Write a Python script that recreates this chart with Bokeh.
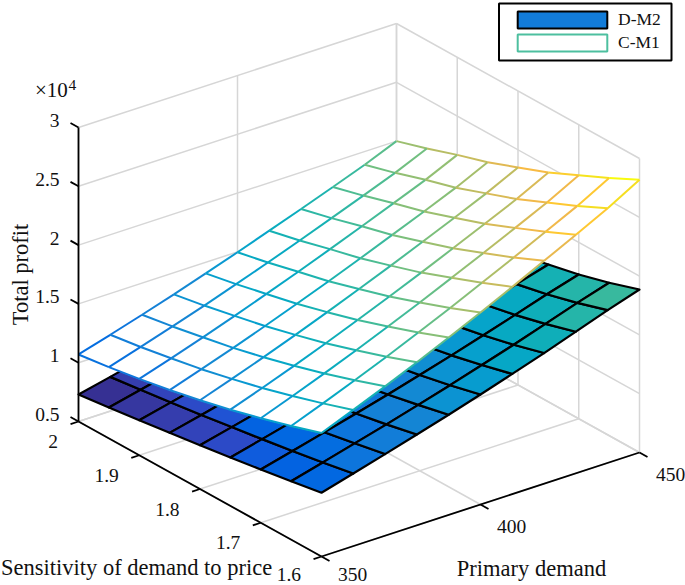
from bokeh.plotting import figure
from bokeh.models import Range1d, ColumnDataSource, Legend, LegendItem
from bokeh.core.properties import value
from bokeh.embed import file_html
from bokeh.resources import INLINE
import math

primary_demand = [350, 360, 370, 380, 390, 400, 410, 420, 430, 440, 450]
price_sensitivity = [2.0, 1.95, 1.9, 1.85, 1.8, 1.75, 1.7, 1.65, 1.6]

x_ticks = [350, 400, 450]
y_ticks = [1.6, 1.7, 1.8, 1.9, 2.0]
z_ticks = [0.5, 1.0, 1.5, 2.0, 2.5, 3.0]
x_tick_labels = ["350", "400", "450"]
y_tick_labels = ["1.6", "1.7", "1.8", "1.9", "2"]
z_tick_labels = ["0.5", "1", "1.5", "2", "2.5", "3"]

# total profit (x 10^4), one row per price sensitivity, one column per demand
d_m2 = [
    [0.730, 0.791, 0.854, 0.918, 0.983, 1.052, 1.123, 1.195, 1.271, 1.349, 1.420],
    [0.763, 0.825, 0.888, 0.953, 1.019, 1.088, 1.160, 1.233, 1.309, 1.388, 1.460],
    [0.798, 0.861, 0.925, 0.990, 1.057, 1.127, 1.200, 1.275, 1.352, 1.432, 1.505],
    [0.834, 0.898, 0.964, 1.030, 1.099, 1.170, 1.244, 1.320, 1.399, 1.481, 1.555],
    [0.872, 0.938, 1.005, 1.073, 1.143, 1.216, 1.292, 1.369, 1.451, 1.534, 1.610],
    [0.912, 0.979, 1.048, 1.118, 1.189, 1.264, 1.342, 1.422, 1.505, 1.590, 1.668],
    [0.953, 1.022, 1.092, 1.164, 1.237, 1.314, 1.393, 1.475, 1.560, 1.647, 1.727],
    [0.997, 1.068, 1.142, 1.215, 1.292, 1.371, 1.454, 1.538, 1.627, 1.717, 1.800],
    [1.042, 1.117, 1.194, 1.272, 1.352, 1.435, 1.522, 1.611, 1.704, 1.799, 1.886],
]
c_m1 = [
    [1.070, 1.149, 1.231, 1.316, 1.406, 1.497, 1.592, 1.688, 1.787, 1.887, 2.000],
    [1.106, 1.189, 1.275, 1.364, 1.458, 1.553, 1.652, 1.754, 1.857, 1.962, 2.080],
    [1.149, 1.236, 1.326, 1.420, 1.518, 1.618, 1.722, 1.828, 1.936, 2.046, 2.170],
    [1.198, 1.287, 1.380, 1.477, 1.578, 1.681, 1.788, 1.898, 2.009, 2.123, 2.250],
    [1.255, 1.348, 1.444, 1.545, 1.650, 1.758, 1.869, 1.983, 2.099, 2.218, 2.350],
    [1.318, 1.414, 1.514, 1.618, 1.727, 1.838, 1.953, 2.071, 2.191, 2.313, 2.450],
    [1.389, 1.489, 1.593, 1.702, 1.815, 1.931, 2.052, 2.174, 2.300, 2.427, 2.570],
    [1.466, 1.570, 1.678, 1.790, 1.908, 2.028, 2.153, 2.280, 2.410, 2.542, 2.690],
    [1.550, 1.658, 1.770, 1.887, 2.008, 2.133, 2.262, 2.395, 2.529, 2.666, 2.820],
]

parula = [
    (.2081,.1663,.5292),(.2116,.1898,.5777),(.2123,.2138,.6270),(.2081,.2386,.6771),
    (.1959,.2645,.7279),(.1707,.2919,.7792),(.1253,.3242,.8303),(.0591,.3598,.8683),
    (.0117,.3875,.8820),(.0060,.4086,.8828),(.0165,.4266,.8786),(.0329,.4430,.8720),
    (.0498,.4586,.8641),(.0629,.4737,.8554),(.0723,.4887,.8467),(.0779,.5040,.8384),
    (.0793,.5200,.8312),(.0749,.5375,.8263),(.0641,.5570,.8240),(.0488,.5772,.8228),
    (.0343,.5966,.8199),(.0265,.6137,.8135),(.0239,.6287,.8038),(.0231,.6418,.7913),
    (.0228,.6535,.7768),(.0267,.6642,.7607),(.0384,.6743,.7436),(.0590,.6838,.7254),
    (.0843,.6928,.7062),(.1133,.7015,.6859),(.1453,.7098,.6646),(.1801,.7177,.6424),
    (.2178,.7250,.6193),(.2586,.7317,.5954),(.3022,.7376,.5712),(.3482,.7424,.5473),
    (.3953,.7459,.5244),(.4420,.7481,.5033),(.4871,.7491,.4840),(.5300,.7491,.4661),
    (.5709,.7485,.4494),(.6099,.7473,.4337),(.6473,.7456,.4188),(.6834,.7435,.4044),
    (.7184,.7411,.3905),(.7525,.7384,.3768),(.7858,.7356,.3633),(.8185,.7327,.3498),
    (.8507,.7299,.3360),(.8824,.7274,.3217),(.9139,.7258,.3063),(.9450,.7261,.2886),
    (.9739,.7314,.2666),(.9938,.7455,.2403),(.9990,.7653,.2164),(.9955,.7861,.1967),
    (.9880,.8066,.1794),(.9789,.8271,.1633),(.9697,.8481,.1475),(.9626,.8705,.1309),
    (.9589,.8949,.1132),(.9598,.9218,.0948),(.9661,.9514,.0755),(.9763,.9831,.0538),
]
Z_MIN, Z_MAX = 0.73, 2.82


def colour(z):
    t = max(0.0, min(1.0, (z - Z_MIN) / (Z_MAX - Z_MIN)))
    r, g, b = parula[min(63, int(t * 64))]
    return "#%02x%02x%02x" % (round(r * 255), round(g * 255), round(b * 255))


# orthographic view: the three axis directions on the page, in pixels
ORIGIN_X, ORIGIN_Y = 78.0, 421.0
def px(x, y, z):
    return ORIGIN_X + (x - 350) / 100 * 318 + (2 - y) / 0.4 * 243
def py(x, y, z):
    return ORIGIN_Y - (x - 350) / 100 * 104 + (2 - y) / 0.4 * 135 - (z - 0.5) / 2.5 * 294


H = 585
p = figure(width=685, height=H, output_backend="svg", toolbar_location=None,
           x_range=Range1d(0, 685), y_range=Range1d(H, 0),
           x_axis_type=None, y_axis_type=None, min_border=0,
           margin=(0, 0, 0, 0), outline_line_color=None)
p.grid.visible = False

FONT = value("Liberation Serif")


def seg(rows):
    xs = [[px(*a), px(*b)] for a, b in rows]
    ys = [[py(*a), py(*b)] for a, b in rows]
    return xs, ys


# walls and floor grid
zlo, zhi = z_ticks[0], z_ticks[-1]
grid = []
for x in x_ticks:
    grid.append(((x, 1.6, zlo), (x, 2.0, zlo)))
    grid.append(((x, 2.0, zlo), (x, 2.0, zhi)))
for y in y_ticks:
    grid.append(((350, y, zlo), (450, y, zlo)))
    grid.append(((450, y, zlo), (450, y, zhi)))
for z in z_ticks:
    grid.append(((350, 2.0, z), (450, 2.0, z)))
    grid.append(((450, 2.0, z), (450, 1.6, z)))
gx, gy = seg(grid)
p.multi_line(gx, gy, line_color="#d6d6d6", line_width=1.5)


def cells(table):
    xs, ys, col = [], [], []
    for k in range(len(price_sensitivity) - 1):
        for i in range(len(primary_demand) - 1):
            corners = [(i, k), (i + 1, k), (i + 1, k + 1), (i, k + 1)]
            xs.append([px(primary_demand[a], price_sensitivity[b], table[b][a]) for a, b in corners])
            ys.append([py(primary_demand[a], price_sensitivity[b], table[b][a]) for a, b in corners])
            col.append(colour(sum(table[b][a] for a, b in corners) / 4))
    return xs, ys, col


# D-M2: coloured faces, black mesh
lx, ly, lc = cells(d_m2)
p.patches("xs", "ys", fill_color="c", line_color="black", line_width=2.2, line_join="round",
          source=ColumnDataSource(dict(xs=lx, ys=ly, c=lc)))

# C-M1: white faces, coloured mesh
ux, uy, _ = cells(c_m1)
p.patches(ux, uy, fill_color="white", line_color="white", line_width=0.5)
ex, ey, ec = [], [], []
nx, ny = len(primary_demand), len(price_sensitivity)
for k in range(ny):
    for i in range(nx):
        a = (primary_demand[i], price_sensitivity[k], c_m1[k][i])
        if i + 1 < nx:
            b = (primary_demand[i + 1], price_sensitivity[k], c_m1[k][i + 1])
            ex.append([px(*a), px(*b)]); ey.append([py(*a), py(*b)]); ec.append(colour(a[2]))
        if k + 1 < ny:
            b = (primary_demand[i], price_sensitivity[k + 1], c_m1[k + 1][i])
            ex.append([px(*a), px(*b)]); ey.append([py(*a), py(*b)]); ec.append(colour(b[2]))
p.multi_line("xs", "ys", line_color="c", line_width=2.0,
             source=ColumnDataSource(dict(xs=ex, ys=ey, c=ec)))

# axes and ticks
axes = [((350, 2.0, zlo), (350, 2.0, zhi)), ((350, 2.0, zlo), (350, 1.6, zlo)), ((350, 1.6, zlo), (450, 1.6, zlo))]
tick = []
for z in z_ticks:
    tick.append(((350, 2.0, z), (350, 2.0132, z)))
for y in y_ticks:
    tick.append(((350, y, zlo), (347.5, y, zlo)))
for x in x_ticks:
    tick.append(((x, 1.6, zlo), (x, 1.5868, zlo)))
ax, ay = seg(axes + tick)
p.multi_line(ax, ay, line_color="black", line_width=1.8)

common = dict(text_font=FONT, text_font_size="19.5px", text_color="#111111", text_baseline="middle")
title_style = dict(common, text_font_size="22.5px")
p.text([px(350, 2.0, z) for z in z_ticks], [py(350, 2.0, z) for z in z_ticks], text=z_tick_labels,
       x_offset=-19, y_offset=-7, text_align="right", **common)
# the two lowest labels sit a little higher so that they stay inside the page
p.text("x", "y", text="t", x_offset=-20.5, y_offset="dy", text_align="right",
       source=ColumnDataSource(dict(x=[px(350, y, zlo) for y in y_ticks], y=[py(350, y, zlo) for y in y_ticks],
                                    t=y_tick_labels, dy=[17.5, 20, 20, 20, 20])), **common)
p.text("x", "y", text="t", x_offset=31, y_offset="dy", text_align="center",
       source=ColumnDataSource(dict(x=[px(x, 1.6, zlo) for x in x_ticks], y=[py(x, 1.6, zlo) for x in x_ticks],
                                    t=x_tick_labels, dy=[17.5, 22, 22])), **common)

p.text([0.5], [567], text=["Sensitivity of demand to price"], text_align="left", **title_style)
p.text([531], [568], text=["Primary demand"], text_align="center", **title_style)
p.text([20], [274], text=["Total profit"], angle=math.pi / 2, text_align="center", **title_style)
p.text([34.5], [89], text=["×10"], text_align="left", text_font=FONT, text_font_size="21px",
       text_color="#111111", text_baseline="middle")
p.text([68], [84], text=["4"], text_align="left", text_font=FONT, text_font_size="15.5px",
       text_color="#111111", text_baseline="middle")

# legend
p.quad(left=[498.5], right=[671], top=[3], bottom=[60], fill_color="white", line_color="black", line_width=2)
r1 = p.quad(left=[-50], right=[-40], top=[-50], bottom=[-40], fill_color="#127cd9", line_color="black", line_width=2)
r2 = p.quad(left=[-50], right=[-40], top=[-50], bottom=[-40], fill_color="white", line_color="#4dbf9f", line_width=2)
leg = Legend(items=[LegendItem(label="D-M2", renderers=[r1]), LegendItem(label="C-M1", renderers=[r2])],
             location=(506, H - 53), margin=0, padding=0, spacing=2, glyph_width=112, glyph_height=21,
             label_height=21, label_standoff=0, label_text_font="Liberation Serif",
             label_text_font_size="17.5px", label_text_color="#111111",
             border_line_color=None, background_fill_alpha=0)
p.add_layout(leg)

open("out.html", "w").write(file_html(p, INLINE))
